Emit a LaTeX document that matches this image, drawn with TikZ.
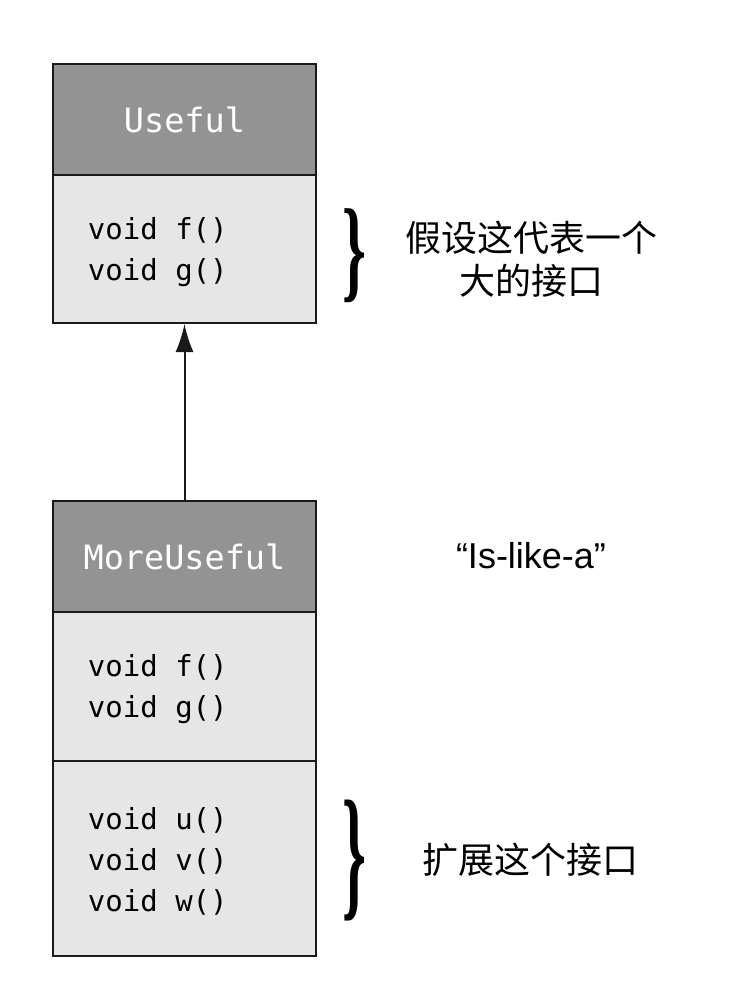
\documentclass[tikz,border=0pt]{standalone}
\usepackage{fontspec}
\usepackage{graphicx}
\setmonofont{DejaVu Sans Mono}
\newfontfamily\cjk{Noto Sans CJK SC}
\newfontfamily\quotefont{Liberation Sans}
\newfontfamily\bracefont{Liberation Serif}
\usepackage{tikz}
\usetikzlibrary{arrows.meta}
\usetikzlibrary{positioning}
\definecolor{headcolor}{HTML}{939393}
\definecolor{bodycolor}{HTML}{E6E6E6}
\definecolor{edgecolor}{HTML}{1A1A1A}
\newcommand{\gap}{\hphantom{0}}

\begin{document}
\begin{tikzpicture}[x=1bp,y=-1bp,
  head/.style={draw=edgecolor,fill=headcolor,line width=2bp,minimum width=263bp,
    minimum height=111bp,inner sep=0pt,text=white,
    font=\ttfamily\fontsize{33.5bp}{40bp}\selectfont},
  body/.style={draw=edgecolor,fill=bodycolor,line width=2bp,text width=193bp,
    inner xsep=35bp,inner ysep=0pt,align=left,
    font=\ttfamily\fontsize{29bp}{41bp}\selectfont},
  note/.style={align=center,font=\cjk\fontsize{36bp}{43bp}\selectfont}]
  \useasboundingbox (0,0) rectangle (736,997);
  % the base interface
  \node[head] (useful) at (184.5,119.5) {Useful};
  \node[body,minimum height=148bp] (usefulbody) at (184.5,249) {\rule{0pt}{28bp}void\gap f()\\void\gap g()};
  % the derived interface
  \node[head] (more) at (184.5,556.5) {MoreUseful};
  \node[body,minimum height=149bp] (morebody) at (184.5,686.5) {\rule{0pt}{28bp}void\gap f()\\void\gap g()};
  \node[body,minimum height=195bp] (moreext) at (184.5,858.5) {\rule{0pt}{27bp}void\gap u()\\void\gap v()\\void\gap w()};
  \draw[edgecolor,line width=2bp,-{Latex[length=28bp,width=18bp]}] (more.north) -- (usefulbody.south);
  % braces and remarks
  \node[inner sep=0pt] (bracetop) at (354,256) {\resizebox*{24bp}{94bp}{\bracefont\bfseries\}}};
  \node[inner sep=0pt] (bracebot) at (354,861) {\resizebox*{24bp}{121bp}{\bracefont\bfseries\}}};
  \node[note] (bignote) at (531,259.5) {假设这代表一个\\大的接口};
  \node[inner sep=0pt,font=\quotefont\fontsize{36bp}{43bp}\selectfont] (islike) at (531,556) {“Is-like-a”};
  \node[note] (extnote) at (530,860) {扩展这个接口};
\end{tikzpicture}
\end{document}
